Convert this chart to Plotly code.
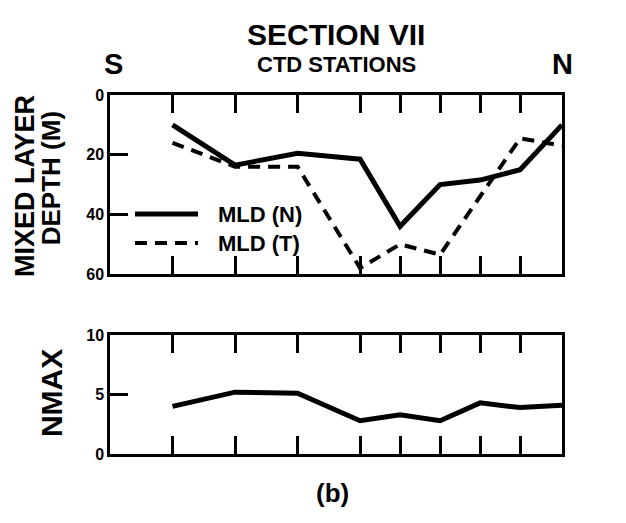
import plotly.graph_objects as go

# CTD station positions along section VII (S -> N), in station-spacing units
stations = [1.0, 2.0, 3.0, 4.0, 4.64, 5.28, 5.92, 6.56, 7.23]
# mixed layer depth (m) from the N-profile and from the T-profile
mld_n = [10, 23.5, 19.5, 21.5, 44, 30, 28.5, 25, 10]
mld_t = [16, 24, 24, 58, 50, 53.5, 34, 14.5, 17]
# maximum buoyancy frequency
nmax = [4.0, 5.2, 5.1, 2.8, 3.3, 2.8, 4.3, 3.9, 4.1]

depth_ticks = [0, 20, 40, 60]
nmax_ticks = [0, 5, 10]

FONT = "Liberation Sans"
W, H = 626, 523
SOLID = dict(color="black", width=5)
DASHED = dict(color="black", width=4, dash="12px,8px")

fig = go.Figure()
fig.add_trace(go.Scatter(x=stations, y=mld_n, mode="lines", name="MLD (N)",
                         line=SOLID, xaxis="x", yaxis="y"))
fig.add_trace(go.Scatter(x=stations, y=mld_t, mode="lines", name="MLD (T)",
                         line=DASHED, xaxis="x", yaxis="y"))
fig.add_trace(go.Scatter(x=stations, y=nmax, mode="lines", name="NMAX",
                         line=SOLID, xaxis="x2", yaxis="y2"))

x0, x1 = 110 / W, 562 / W
top_dom = [(H - 275) / H, (H - 90) / H]
bot_dom = [(H - 461) / H, (H - 338) / H]

xcommon = dict(range=[0, stations[-1]], tickvals=stations[:-1], ticks="inside",
               ticklen=18, tickwidth=2.5, tickcolor="black", showticklabels=False,
               showline=True, linecolor="black", linewidth=2.5, mirror="ticks",
               showgrid=False, zeroline=False, domain=[x0, x1])
ycommon = dict(ticks="inside", ticklen=18, tickwidth=2.5, tickcolor="black",
               showline=True, linecolor="black", linewidth=2.5, mirror=True,
               showgrid=False, zeroline=False,
               tickfont=dict(family=FONT, size=16, color="black", weight="bold"))

fig.update_layout(
    width=W, height=H, margin=dict(l=0, r=0, t=0, b=0),
    paper_bgcolor="white", plot_bgcolor="white", showlegend=False,
    xaxis=dict(**xcommon, anchor="y"),
    yaxis=dict(**ycommon, domain=top_dom, range=[60, 0], tickvals=depth_ticks,
               anchor="x"),
    xaxis2=dict(**xcommon, anchor="y2"),
    yaxis2=dict(**ycommon, domain=bot_dom, range=[0, 10], tickvals=nmax_ticks,
                anchor="x2"),
)

bold = dict(family=FONT, color="black", weight="bold")
ann = [
    dict(text="SECTION VII", x=336 / W, y=1 - 27 / H, font=dict(**bold, size=30)),
    dict(text="CTD STATIONS", x=336 / W, y=1 - 58 / H, font=dict(**bold, size=22)),
    dict(text="S", x=113 / W, y=1 - 58 / H, font=dict(**bold, size=29)),
    dict(text="N", x=562 / W, y=1 - 58 / H, font=dict(**bold, size=29)),
    dict(text="MIXED LAYER", x=25 / W, y=1 - 184 / H, textangle=-90,
         font=dict(**bold, size=27)),
    dict(text="DEPTH (M)", x=51 / W, y=1 - 176 / H, textangle=-90,
         font=dict(**bold, size=26)),
    dict(text="NMAX", x=51 / W, y=1 - 398 / H, textangle=-90,
         font=dict(**bold, size=30)),
    dict(text="(b)", x=332 / W, y=1 - 501 / H, font=dict(**bold, size=26)),
]
for a in ann:
    fig.add_annotation(xref="paper", yref="paper", showarrow=False,
                       xanchor="center", yanchor="middle", **a)

# legend keys inside the upper panel
leg_rows = [("MLD (N)", SOLID, 213), ("MLD (T)", DASHED, 243)]
for label, style, py in leg_rows:
    yy = 1 - py / H
    fig.add_shape(type="line", xref="paper", yref="paper",
                  x0=135 / W, x1=198 / W, y0=yy, y1=yy, line=style)
    fig.add_annotation(xref="paper", yref="paper", x=216 / W, y=yy, text=label,
                       showarrow=False, xanchor="left", yanchor="middle",
                       font=dict(**bold, size=22))

fig.write_html("out.html")
